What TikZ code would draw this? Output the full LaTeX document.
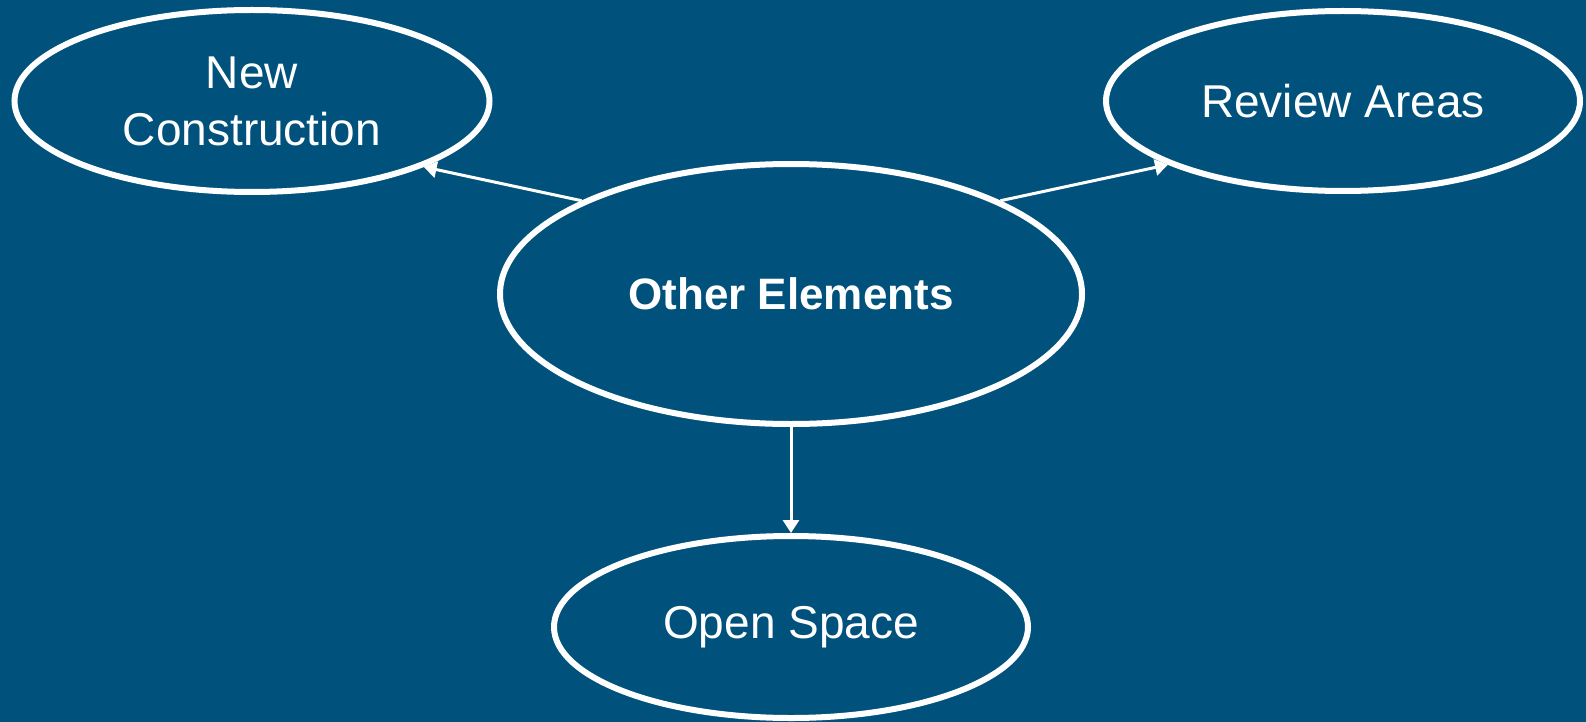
\documentclass[tikz,border=0pt]{standalone}
\usepackage{fontspec}
\setmainfont{Liberation Sans}
\usetikzlibrary{shapes.geometric,arrows.meta}
\definecolor{bg}{RGB}{0,82,124}
\begin{document}
\begin{tikzpicture}[x=1pt,y=-1pt,
  oval/.style={draw=white,line width=6pt,ellipse,inner sep=0pt,text=white,align=center,font=\fontsize{46}{57}\selectfont},
  link/.style={draw=white,line width=3pt,-{Triangle[length=13pt,width=16pt]}}]
\fill[bg] (0,0) rectangle (1586,722);
\useasboundingbox (0,0) rectangle (1586,722);
\node[oval,minimum width=475pt,minimum height=182pt] (nc) at (252,101) {New\\Construction};
\node[oval,minimum width=474pt,minimum height=180pt] (ra) at (1343,101) {Review Areas};
\node[oval,minimum width=582pt,minimum height=260pt,font=\bfseries\fontsize{44}{52}\selectfont] (oe) at (791,294) {Other Elements};
\node[oval,minimum width=474pt,minimum height=182pt] (os) at (791,627) {Open Space};
\draw[link] (oe.156) -- (nc.-21);
\draw[link] (oe.24) -- (ra.-160);
\draw[link] (oe.south) -- (os.north);
\end{tikzpicture}
\end{document}
